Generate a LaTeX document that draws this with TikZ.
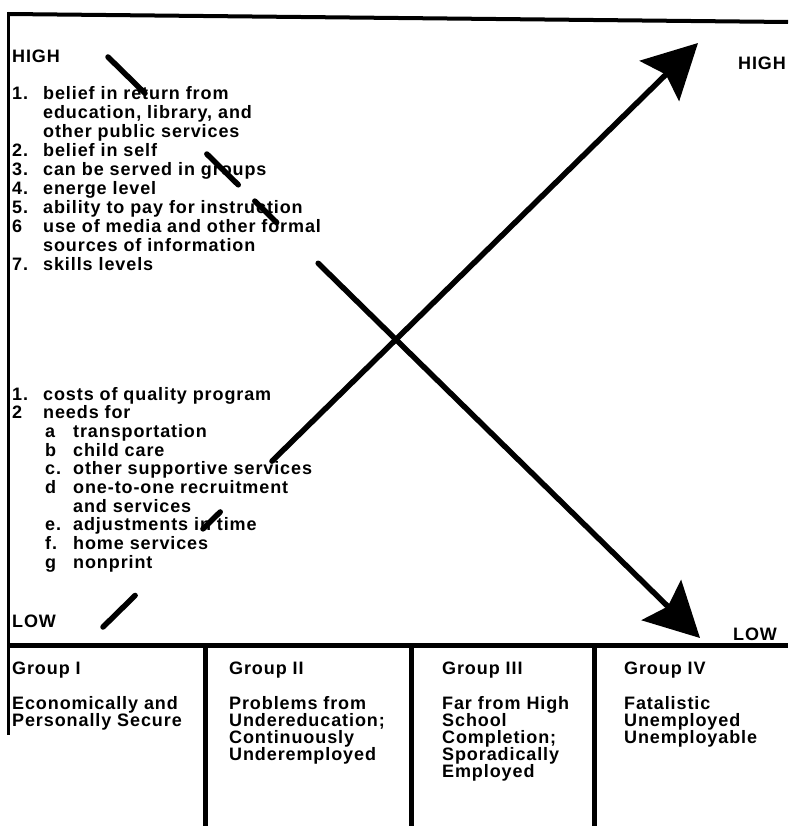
\documentclass[tikz,border=0pt]{standalone}
\usepackage{fontspec}
\setmainfont{Liberation Sans}[LetterSpace=5]
\usetikzlibrary{arrows.meta,calc}

\tikzset{
  txt/.style={anchor=base west, inner sep=0pt, font=\fontsize{18}{19}\selectfont\bfseries},
  endlabel/.style={anchor=base west, inner sep=0pt, font=\fontsize{18}{19}\selectfont\bfseries},
  rule/.style={line width=5pt},
  shaft/.style={line width=5.5pt, line cap=round},
  bigtip/.style={-{Stealth[length=54pt,width=56pt,inset=9pt]}}
}

\begin{document}
\begin{tikzpicture}[x=1pt,y=-1pt]
\useasboundingbox (0,0) rectangle (788,826);

% frame and group boxes
\draw[line width=4pt] (8,14) -- (788,22);
\draw[line width=3pt] (8,12) -- (8,735);
\draw[rule] (8,645) -- (788,645);
\foreach \x in {205,411,594} \draw[rule] (\x,645) -- (\x,826);

% ends of the scale
\node[endlabel] (highL) at (12,63) {HIGH};
\node[endlabel] (lowL) at (12,627) {LOW};
\node[endlabel] (highR) at (738,70) {HIGH};
\node[endlabel] (lowR) at (733,640) {LOW};

% upper list
\foreach \r/\n/\t in {0/1./belief in return from, 1//{education, library, and},
    2//other public services, 3/2./belief in self, 4/3./can be served in groups,
    5/4./energe level, 6/5./ability to pay for instruction,
    7/6/use of media and other formal, 8//sources of information, 9/7./skills levels}
{
  \node[txt] (hinum-\r) at (12,{100+18.9*\r}) {\n};
  \node[txt] (hiitem-\r) at (43,{100+18.9*\r}) {\t};
}

% lower list
\foreach \r/\n/\t/\ind in {0/1./costs of quality program/0, 1/2/needs for/0,
    2/a/transportation/1, 3/b/child care/1, 4/c./other supportive services/1,
    5/d/one-to-one recruitment/1, 6//and services/1, 7/e./adjustments in time/1,
    8/f./home services/1, 9/g/nonprint/1}
{
  \node[txt] (lonum-\r) at ({12+33*\ind},{400+18.7*\r}) {\n};
  \node[txt] (loitem-\r) at ({43+30*\ind},{400+18.7*\r}) {\t};
}

% groups
\foreach \g/\x/\head/\body in {1/12/Group I/{Economically and,Personally Secure},
    2/229/Group II/{Problems from,Undereducation;,Continuously,Underemployed},
    3/442/Group III/{Far from High,School,Completion;,Sporadically,Employed},
    4/624/Group IV/{Fatalistic,Unemployed,Unemployable}}
{
  \node[txt] (grp-\g) at (\x,674) {\head};
  \foreach \ln [count=\k from 0] in \body
    \node[txt] (grp-\g-\k) at (\x,{709+17*\k}) {\ln};
}

% falling arrow
\coordinate (dnA) at (108,57);
\coordinate (dnB) at (700,638);
\draw[shaft] (dnA) -- ($(dnA)!0.0625!(dnB)$);
\draw[shaft] ($(dnA)!0.167!(dnB)$) -- ($(dnA)!0.22!(dnB)$);
\draw[shaft] ($(dnA)!0.248!(dnB)$) -- ($(dnA)!0.285!(dnB)$);
\draw[shaft,bigtip] ($(dnA)!0.355!(dnB)$) -- (dnB);

% rising arrow
\coordinate (upA) at (103,627);
\coordinate (upB) at (698,43);
\draw[shaft] (upA) -- ($(upA)!0.054!(upB)$);
\draw[shaft] ($(upA)!0.168!(upB)$) -- ($(upA)!0.197!(upB)$);
\draw[shaft,bigtip] ($(upA)!0.284!(upB)$) -- (upB);
\end{tikzpicture}
\end{document}
